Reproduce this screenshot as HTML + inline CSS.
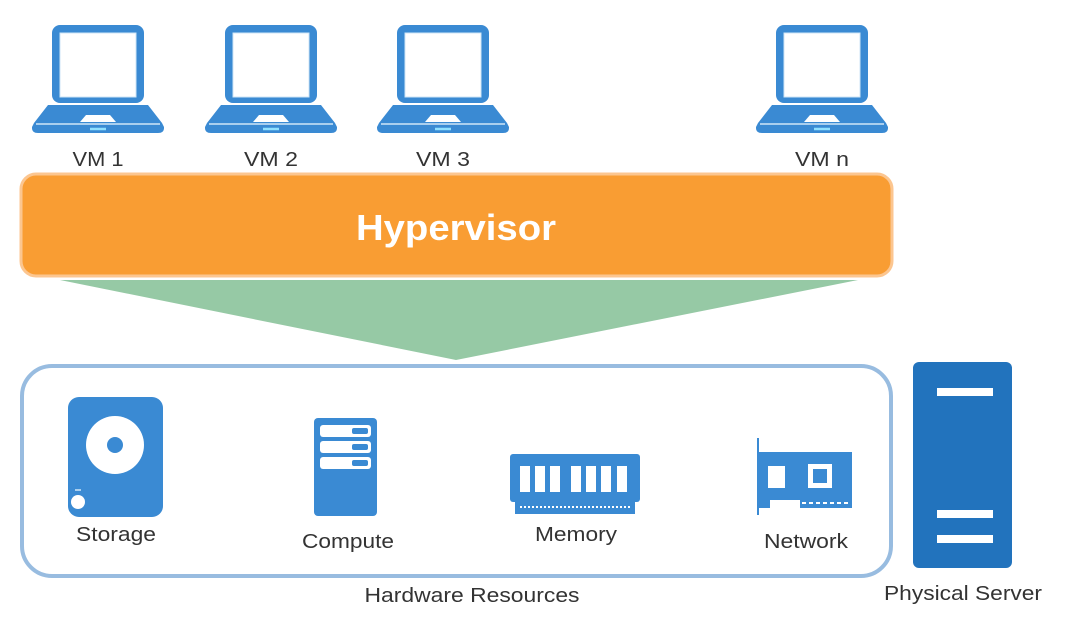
<!DOCTYPE html>
<html><head><meta charset="utf-8"><style>
html,body{margin:0;padding:0;background:#fff;}
svg{display:block;font-family:"Liberation Sans",Arial,sans-serif;}
</style></head><body>
<svg width="1084" height="636" viewBox="0 0 1084 636" xmlns="http://www.w3.org/2000/svg">
<defs>
<g id="lap">
<rect x="-46" y="-2" width="92" height="78" rx="8" fill="#3a8ad3"/>
<rect x="-38" y="6" width="76" height="64" fill="#fff" stroke="#cfe6f7" stroke-width="1"/>
<path d="M-50 78 L50 78 L64 96 L66 100 L66 101 Q66 106 60 106 L-60 106 Q-66 106 -66 101 L-66 100 L-64 96 Z" fill="#3a8ad3"/>
<line x1="-62" y1="97" x2="62" y2="97" stroke="#cfe6f7" stroke-width="1.5"/>
<path d="M-18 95 L-12 88 L12 88 L18 95 Z" fill="#fff"/>
<line x1="-8" y1="102" x2="8" y2="102" stroke="#8fe0ff" stroke-width="2.5"/>
</g>
</defs>
<use href="#lap" x="98" y="27"/>
<use href="#lap" x="271" y="27"/>
<use href="#lap" x="443" y="27"/>
<use href="#lap" x="822" y="27"/>
<g font-size="20" fill="#333" text-anchor="middle" lengthAdjust="spacingAndGlyphs">
<text x="98" y="166" textLength="51" lengthAdjust="spacingAndGlyphs">VM 1</text>
<text x="271" y="166" textLength="54" lengthAdjust="spacingAndGlyphs">VM 2</text>
<text x="443" y="166" textLength="54" lengthAdjust="spacingAndGlyphs">VM 3</text>
<text x="822" y="166" textLength="54" lengthAdjust="spacingAndGlyphs">VM n</text>
</g>
<polygon points="60,280 858,280 456,360" fill="#96c9a5"/>
<rect x="21" y="174" width="871" height="102" rx="15" fill="#f99d33" stroke="#fcc690" stroke-width="3"/>
<text x="456" y="240" font-size="36" font-weight="bold" fill="#fff" text-anchor="middle" textLength="200" lengthAdjust="spacingAndGlyphs">Hypervisor</text>
<rect x="22" y="366" width="869" height="210" rx="30" fill="#fff" stroke="#98bce0" stroke-width="4"/>
<!-- storage -->
<rect x="68" y="397" width="95" height="120" rx="11" fill="#3a8ad3"/>
<circle cx="115" cy="445" r="29" fill="#fff"/>
<circle cx="115" cy="445" r="8" fill="#3a8ad3"/>
<circle cx="78" cy="502" r="7" fill="#fff"/>
<line x1="75" y1="490" x2="81" y2="490" stroke="#cfe6f7" stroke-width="1.5"/>
<!-- compute -->
<rect x="314" y="418" width="63" height="98" rx="4" fill="#3a8ad3"/>
<g fill="#fff"><rect x="320" y="425" width="51" height="12" rx="3"/><rect x="320" y="441" width="51" height="12" rx="3"/><rect x="320" y="457" width="51" height="12" rx="3"/></g>
<g fill="#3a8ad3"><rect x="352" y="428" width="16" height="6" rx="2"/><rect x="352" y="444" width="16" height="6" rx="2"/><rect x="352" y="460" width="16" height="6" rx="2"/></g>
<!-- memory -->
<rect x="510" y="454" width="130" height="48" rx="3" fill="#3a8ad3"/>
<rect x="515" y="502" width="120" height="12" fill="#3a8ad3"/>
<g fill="#fff"><rect x="520" y="466" width="10" height="26"/><rect x="535" y="466" width="10" height="26"/><rect x="550" y="466" width="10" height="26"/><rect x="571" y="466" width="10" height="26"/><rect x="586" y="466" width="10" height="26"/><rect x="601" y="466" width="10" height="26"/><rect x="617" y="466" width="10" height="26"/></g>
<line x1="520" y1="507" x2="630" y2="507" stroke="#fff" stroke-width="2" stroke-dasharray="2 2"/>
<!-- network -->
<line x1="758" y1="438" x2="758" y2="515" stroke="#3a8ad3" stroke-width="2"/>
<path d="M758 452 L852 452 L852 508 L800 508 L800 500 L770 500 L770 508 L758 508 Z" fill="#3a8ad3"/>
<rect x="768" y="466" width="17" height="22" fill="#fff"/>
<rect x="808" y="464" width="24" height="24" fill="#fff"/>
<rect x="813" y="469" width="14" height="14" fill="#3a8ad3"/>
<line x1="795" y1="503" x2="848" y2="503" stroke="#fff" stroke-width="2" stroke-dasharray="4 3"/>
<!-- physical server -->
<rect x="913" y="362" width="99" height="206" rx="6" fill="#2273bd"/>
<g fill="#fff"><rect x="937" y="388" width="56" height="8"/><rect x="937" y="510" width="56" height="8"/><rect x="937" y="535" width="56" height="8"/></g>
<g font-size="20" fill="#333" text-anchor="middle">
<text x="116" y="541" textLength="80" lengthAdjust="spacingAndGlyphs">Storage</text>
<text x="348" y="548" textLength="92" lengthAdjust="spacingAndGlyphs">Compute</text>
<text x="576" y="541" textLength="82" lengthAdjust="spacingAndGlyphs">Memory</text>
<text x="806" y="548" textLength="84" lengthAdjust="spacingAndGlyphs">Network</text>
<text x="472" y="602" textLength="215" lengthAdjust="spacingAndGlyphs">Hardware Resources</text>
<text x="963" y="600" textLength="158" lengthAdjust="spacingAndGlyphs">Physical Server</text>
</g>
</svg>
</body></html>
